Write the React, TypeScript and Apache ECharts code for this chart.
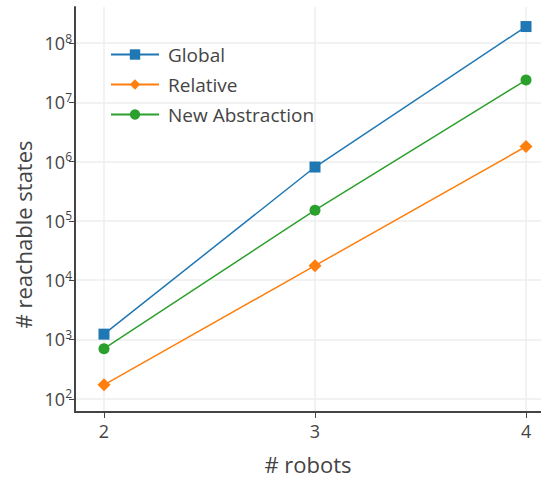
import React, { useEffect, useRef } from "react";
import * as echarts from "echarts";

const robots = [2, 3, 4];
const globalStates = [1230, 811000, 190000000];
const relativeStates = [172, 17600, 1800000];
const newAbstractionStates = [698, 152000, 23800000];
const xTicks = [2, 3, 4];
const yTicks = [1e2, 1e3, 1e4, 1e5, 1e6, 1e7, 1e8];

const FONT = "'Open Sans', 'Noto Sans', sans-serif";
const TXT = "#444";

export default function App() {
  const ref = useRef<HTMLDivElement>(null);
  useEffect(() => {
    const chart = echarts.init(ref.current!, undefined, { renderer: "svg" });
    const mk = (arr: number[]) => robots.map((r, i) => [r, arr[i]]);
    chart.setOption({
      animation: false,
      textStyle: { fontFamily: FONT },
      grid: { left: 75, right: 0, top: 7, bottom: 65, containLabel: false },
      legend: {
        orient: "vertical",
        left: 105,
        top: 40,
        itemWidth: 48,
        itemHeight: 13,
        itemGap: 11,
        textStyle: { fontSize: 19, color: TXT, fontFamily: FONT, padding: [0, 0, 0, 4] },
        data: ["Global", "Relative", "New Abstraction"],
      },
      xAxis: {
        type: "value",
        min: 1.8626,
        max: 4.071,
        name: "# robots",
        nameLocation: "middle",
        nameGap: 41,
        nameTextStyle: { fontSize: 22, color: TXT, fontFamily: FONT },
        axisLine: { show: true, lineStyle: { color: TXT, width: 2 } },
        axisTick: { show: true, length: 6, lineStyle: { color: TXT, width: 1 }, customValues: xTicks },
        axisLabel: { fontSize: 18, color: TXT, margin: 10, customValues: xTicks, fontFamily: FONT },
        splitLine: { show: true, lineStyle: { color: "#eeeeee", width: 1.5 } },
      },
      yAxis: {
        type: "log",
        logBase: 10,
        min: 59.8,
        max: 4.06e8,
        name: "# reachable states",
        nameLocation: "middle",
        nameGap: 40,
        nameTextStyle: { fontSize: 22, color: TXT, fontFamily: FONT, padding: [0, 50, 0, 0] },
        axisLine: { show: true, lineStyle: { color: TXT, width: 2 } },
        axisTick: { show: true, length: 6, lineStyle: { color: TXT, width: 1 }, customValues: yTicks },
        axisLabel: {
          customValues: yTicks,
          margin: 3,
          formatter: (v: number) => `{b|10}{s|${Math.round(Math.log10(v))}}`,
          rich: {
            b: { fontSize: 18, color: TXT, fontFamily: FONT },
            s: { fontSize: 12, color: TXT, fontFamily: FONT, padding: [0, 0, 10, 0] },
          },
        },
        splitLine: { show: true, lineStyle: { color: "#eeeeee", width: 1.5 } },
      },
      series: [
        {
          name: "Global",
          type: "line",
          data: mk(globalStates),
          symbol: "rect",
          symbolSize: 11,
          color: "#1f77b4",
          lineStyle: { width: 1.5 },
        },
        {
          name: "Relative",
          type: "line",
          data: mk(relativeStates),
          symbol: "diamond",
          symbolSize: 13,
          color: "#ff7f0e",
          lineStyle: { width: 1.5 },
        },
        {
          name: "New Abstraction",
          type: "line",
          data: mk(newAbstractionStates),
          symbol: "circle",
          symbolSize: 11,
          color: "#2ca02c",
          lineStyle: { width: 1.5 },
        },
      ],
    });
    return () => chart.dispose();
  }, []);
  return (
    <div
      ref={ref}
      style={{ position: "absolute", left: 0, top: 0, width: 541, height: 480 }}
    />
  );
}
